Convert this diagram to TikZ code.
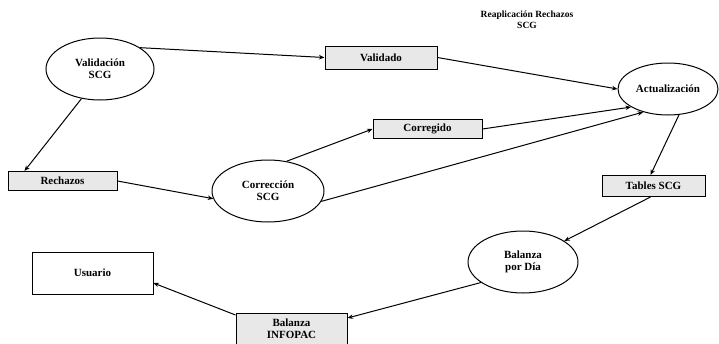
\documentclass[tikz,border=0pt]{standalone}
\usepackage{fontspec}
\setmainfont{Liberation Serif}
\usetikzlibrary{shapes.geometric,arrows.meta}
\begin{document}
\begin{tikzpicture}[x=1pt,y=-1pt,
  lbl/.style={font=\bfseries\fontsize{11}{12}\selectfont},
  proc/.style={lbl,draw,line width=1pt,ellipse,inner sep=0pt,align=center},
  store/.style={lbl,draw,line width=1pt,fill=gray!18,inner sep=0pt,align=center},
  user/.style={lbl,draw,line width=0.8pt,inner sep=0pt,align=center},
  flow/.style={line width=1pt,-{Stealth[length=5.5pt,width=4.5pt]}}]
\useasboundingbox (0,0) rectangle (719,343);
% title
\node[align=center,font=\bfseries\fontsize{9.5}{11}\selectfont] (title) at (527,20) {Reaplicación Rechazos\\SCG};
% processes
\node[proc,minimum width=108pt,minimum height=62pt] (val) at (100,69) {Validación\\SCG};
\node[proc,minimum width=100pt,minimum height=52pt] (act) at (668,89) {Actualización};
\node[proc,minimum width=112pt,minimum height=62pt] (cor) at (268,191) {Corrección\\SCG};
\node[proc,minimum width=110pt,minimum height=62pt] (bal) at (523,262) {Balanza\\por Día};
% data stores
\node[store,minimum width=112pt,minimum height=23pt] (vdo) at (381,57.5) {Validado};
\node[store,minimum width=109pt,minimum height=19pt] (cdo) at (427.5,129) {Corregido};
\node[store,minimum width=109pt,minimum height=19pt] (rec) at (62.5,181) {Rechazos};
\node[store,minimum width=103pt,minimum height=21pt] (tab) at (653.5,186) {Tables SCG};
\node[store,minimum width=111pt,minimum height=32pt] (inf) at (291.5,329) {Balanza\\INFOPAC};
% external entity
\node[user,minimum width=121pt,minimum height=42pt] (usu) at (92.5,273) {Usuario};
% flows
\draw[flow] (val.28) -- (vdo.west);
\draw[flow] (val.-122) -- ([xshift=17pt]rec.north west);
\draw[flow] (vdo.east) -- (act.180);
\draw[flow] (rec.east) -- (cor.188);
\draw[flow] (cor.58) -- (cdo.west);
\draw[flow] (cdo.east) -- (act.-154);
\draw[flow] (cor.-11) -- (act.-137);
\draw[flow] (act.-67) -- ([xshift=-3pt]tab.north);
\draw[flow] ([xshift=-3pt]tab.south) -- (bal.27);
\draw[flow] (bal.-154) -- ([yshift=11pt]inf.east);
\draw[flow] ([yshift=14pt]inf.west) -- ([yshift=-10pt]usu.east);
\end{tikzpicture}
\end{document}
